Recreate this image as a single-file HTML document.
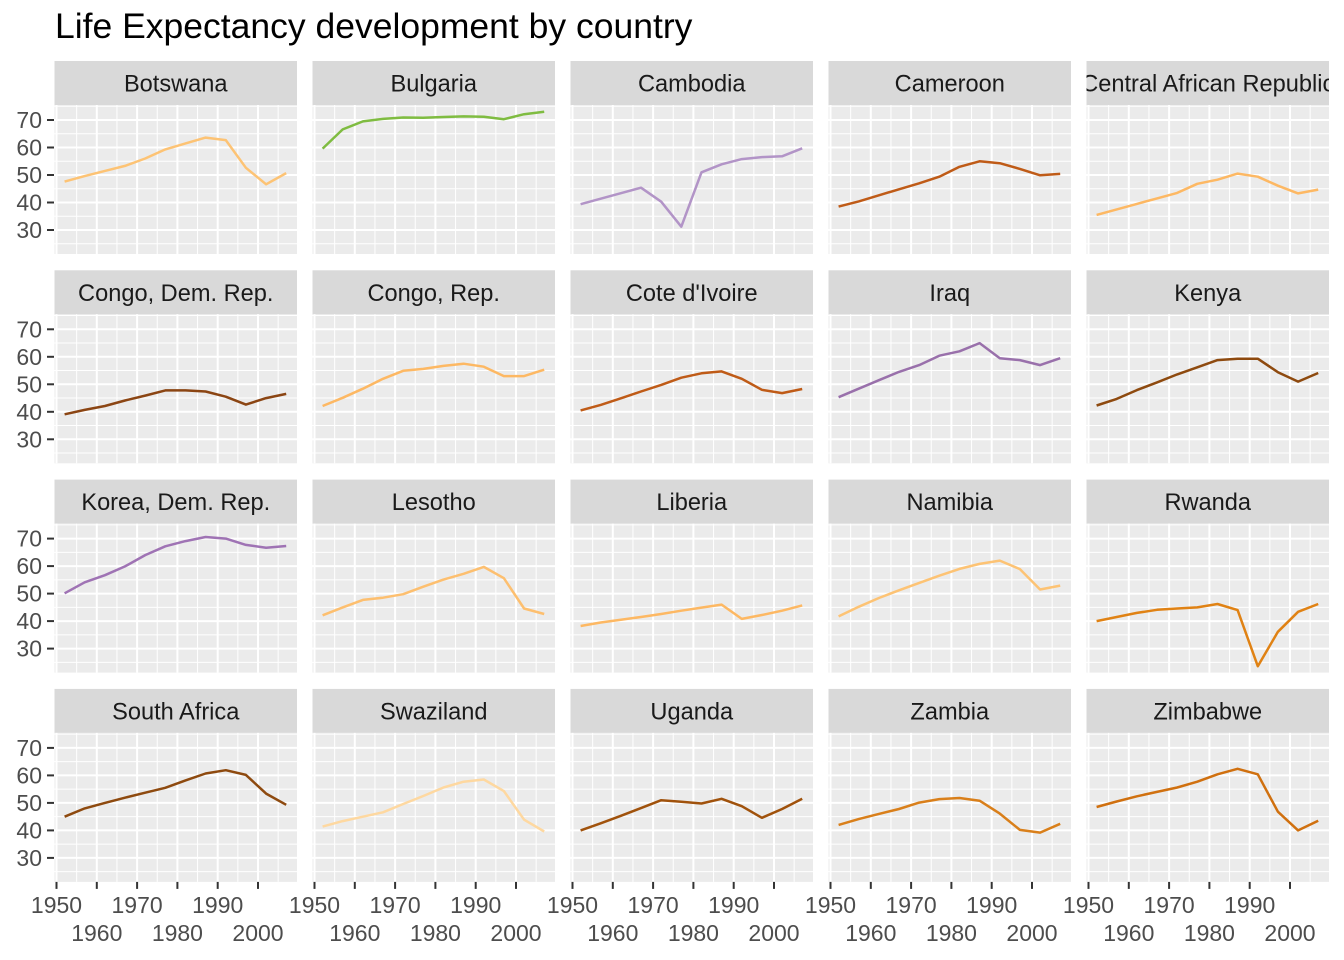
<!DOCTYPE html>
<html><head><meta charset="utf-8"><style>body{margin:0;background:#fff}svg{display:block}</style></head>
<body>
<svg id="s" width="1344" height="960" xmlns="http://www.w3.org/2000/svg" font-family="Liberation Sans, sans-serif">
<text x="55" y="38" font-size="35.5" fill="#000">Life Expectancy development by country</text>
</svg>
<script>
var D=[
["Botswana","#FDC374",[47.6,49.6,51.5,53.3,56.0,59.3,61.5,63.6,62.7,52.6,46.6,50.7]],
["Bulgaria","#7FBC41",[59.6,66.6,69.5,70.4,70.9,70.8,71.1,71.3,71.2,70.3,72.1,73.0]],
["Cambodia","#B294C7",[39.4,41.4,43.4,45.4,40.3,31.2,51.0,53.9,55.8,56.5,56.8,59.7]],
["Cameroon","#BF5B17",[38.5,40.4,42.6,44.8,47.0,49.4,53.0,55.0,54.3,52.2,49.9,50.4]],
["Central African Republic","#FDB863",[35.5,37.5,39.5,41.5,43.5,46.8,48.3,50.5,49.4,46.1,43.3,44.7]],
["Congo, Dem. Rep.","#8B4513",[39.1,40.7,42.1,44.1,45.9,47.8,47.8,47.4,45.5,42.6,45.0,46.5]],
["Congo, Rep.","#FDB863",[42.1,45.1,48.4,52.0,54.9,55.6,56.7,57.5,56.4,53.0,53.0,55.3]],
["Cote d'Ivoire","#BF5B17",[40.5,42.5,44.9,47.4,49.8,52.4,54.0,54.7,52.0,48.0,46.8,48.3]],
["Iraq","#9970AB",[45.3,48.4,51.5,54.5,57.0,60.4,62.0,65.0,59.5,58.8,57.0,59.5]],
["Kenya","#8E4A0F",[42.3,44.7,47.9,50.7,53.6,56.2,58.8,59.3,59.3,54.4,51.0,54.1]],
["Korea, Dem. Rep.","#9F73B4",[50.1,54.1,56.7,59.9,64.0,67.2,69.1,70.6,70.0,67.7,66.7,67.3]],
["Lesotho","#FDBF6F",[42.1,45.0,47.7,48.5,49.8,52.5,55.1,57.2,59.7,55.6,44.6,42.6]],
["Liberia","#FDB863",[38.2,39.5,40.5,41.5,42.6,43.8,44.9,46.0,40.8,42.2,43.8,45.7]],
["Namibia","#FDC374",[41.7,45.2,48.4,51.2,53.9,56.5,59.0,60.8,62.0,58.9,51.5,52.9]],
["Rwanda","#E08214",[40.0,41.5,43.0,44.1,44.6,45.0,46.2,44.0,23.6,36.1,43.4,46.2]],
["South Africa","#8E4A0F",[45.0,48.0,50.0,51.9,53.7,55.5,58.2,60.7,61.9,60.2,53.4,49.3]],
["Swaziland","#FED8A0",[41.4,43.4,45.0,46.6,49.6,52.5,55.6,57.7,58.5,54.3,43.9,39.6]],
["Uganda","#A0520C",[40.0,42.6,45.3,48.1,51.0,50.4,49.8,51.5,48.8,44.6,47.8,51.5]],
["Zambia","#D97F1A",[42.0,44.1,46.0,47.8,50.1,51.4,51.8,50.8,46.1,40.2,39.2,42.4]],
["Zimbabwe","#D0700F",[48.5,50.5,52.4,54.0,55.6,57.7,60.4,62.4,60.4,46.8,40.0,43.5]]];
var s=document.getElementById('s'),h='';
var PW=242.5,PH=149,SH=44;
function X(l,y){return l+2+(y-1950)*4.03;}
function Y(t,v){return t+15+(70-v)*2.75;}
D.forEach(function(d,i){
 var c=i%5,r=Math.floor(i/5);
 var l=54.5+c*258,st=61+r*209.3,t=st+SH;
 h+='<clipPath id="c'+i+'"><rect x="'+l+'" y="'+st+'" width="'+PW+'" height="'+SH+'"/></clipPath>';
 h+='<rect x="'+l+'" y="'+st+'" width="'+PW+'" height="'+SH+'" fill="#D9D9D9"/>';
 h+='<text clip-path="url(#c'+i+')" x="'+(l+PW/2)+'" y="'+(st+30.5)+'" font-size="23.6" fill="#1A1A1A" text-anchor="middle">'+d[0].replace("'","&#39;")+'</text>';
 h+='<rect x="'+l+'" y="'+t+'" width="'+PW+'" height="'+PH+'" fill="#EBEBEB"/>';
 for(var v=25;v<=75;v+=10){var yy=Y(t,v);if(yy>t&&yy<t+PH)h+='<line x1="'+l+'" x2="'+(l+PW)+'" y1="'+yy+'" y2="'+yy+'" stroke="#fff" stroke-width="1"/>';}
 for(var yr=1955;yr<=2005;yr+=10){var xx=X(l,yr);h+='<line y1="'+t+'" y2="'+(t+PH)+'" x1="'+xx+'" x2="'+xx+'" stroke="#fff" stroke-width="1"/>';}
 for(var v=30;v<=70;v+=10){var yy=Y(t,v);h+='<line x1="'+l+'" x2="'+(l+PW)+'" y1="'+yy+'" y2="'+yy+'" stroke="#fff" stroke-width="2"/>';
   if(c==0){h+='<line x1="47" x2="54" y1="'+yy+'" y2="'+yy+'" stroke="#333" stroke-width="2"/><text x="42" y="'+(yy+8)+'" font-size="23" fill="#4D4D4D" text-anchor="end">'+v+'</text>';}}
 for(var yr=1950;yr<=2000;yr+=10){var xx=X(l,yr);h+='<line y1="'+t+'" y2="'+(t+PH)+'" x1="'+xx+'" x2="'+xx+'" stroke="#fff" stroke-width="2"/>';
   if(r==3){h+='<line x1="'+xx+'" x2="'+xx+'" y1="'+(t+PH)+'" y2="'+(t+PH+7)+'" stroke="#333" stroke-width="2"/>';
     var ly=((yr/10)%2==1)?913:941;h+='<text x="'+xx+'" y="'+ly+'" font-size="23" fill="#4D4D4D" text-anchor="middle">'+yr+'</text>';}}
 var p=d[2].map(function(v,k){return X(l,1952+5*k).toFixed(1)+','+Y(t,v).toFixed(1);}).join(' ');
 h+='<polyline points="'+p+'" fill="none" stroke="'+d[1]+'" stroke-width="2.5" stroke-linejoin="round"/>';
});
s.insertAdjacentHTML('beforeend',h);
</script>
</body></html>
